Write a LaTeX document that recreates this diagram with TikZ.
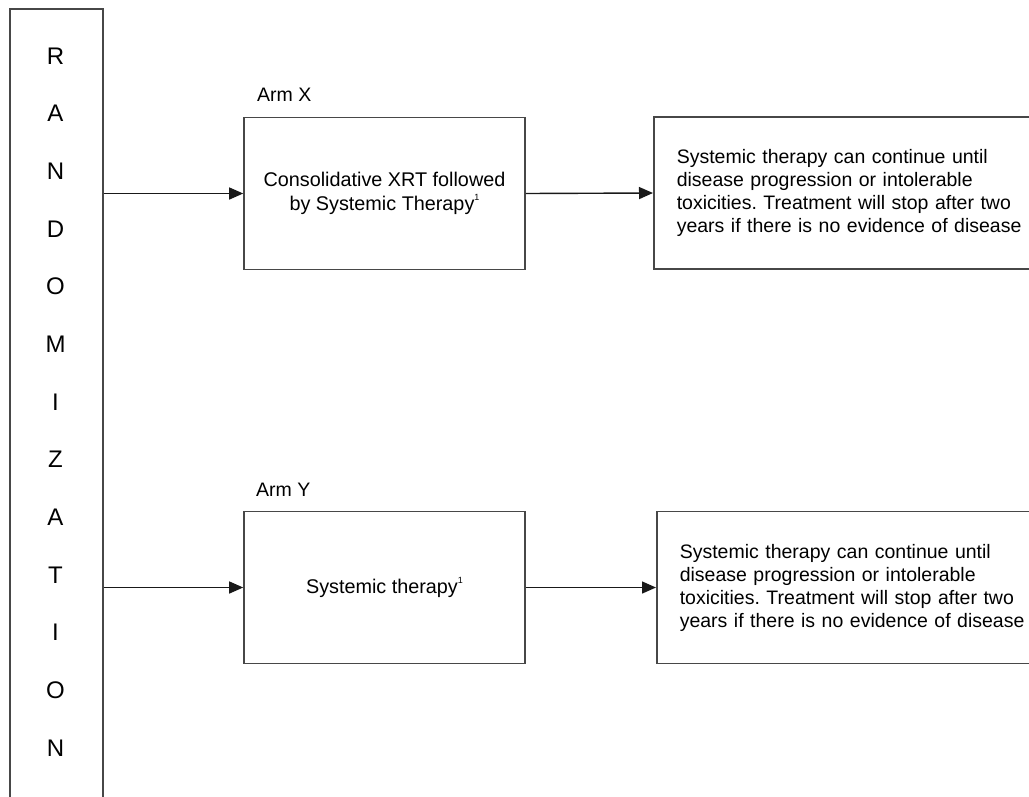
\documentclass[tikz,border=0pt]{standalone}
\usepackage{fontspec}
\setmainfont{Liberation Sans}
\usetikzlibrary{arrows.meta}
\frenchspacing
\newcommand\supone{\raisebox{0.5em}{\fontsize{9}{9}\selectfont 1}}
\begin{document}
\begin{tikzpicture}[x=1pt,y=-1pt,
  boxline/.style={draw=black!72,line width=1.6pt},
  armbox/.style={boxline,minimum width=281pt,minimum height=152pt,inner sep=0pt,
    font=\fontsize{19.8}{24}\selectfont,align=center},
  outbox/.style={boxline,anchor=west,minimum height=152pt,text width=380pt,
    inner xsep=23pt,inner ysep=0pt,font=\fontsize{19.5}{23}\selectfont,align=left},
  letter/.style={font=\fontsize{24}{24}\selectfont,inner sep=0pt},
  armlabel/.style={font=\fontsize{19.5}{20}\selectfont,inner sep=0pt,anchor=west},
  conn/.style={line width=1.4pt,black!90,-{Triangle[length=14pt,width=12pt]}}]
\useasboundingbox (0,0) rectangle (1029,796);
\clip (0,0) rectangle (1029,796);
% randomization column
\node[boxline,minimum width=93pt,minimum height=830pt,anchor=north west,inner sep=0pt] (rand) at (9,8) {};
\foreach \L [count=\i] in {R,A,N,D,O,M,I,Z,A,T,I,O,N}{
  \node[letter] (l\i) at (55.5,{56+(\i-1)*57.67}) {\L};
}
% arm X
\node[armlabel] (ax) at (257,95) {Arm X};
\node[armbox] (b1) at (384.5,193.5) {Consolidative XRT followed\\by Systemic Therapy\supone};
\node[outbox] (b3) at (653,193) {Systemic therapy can continue until\\disease progression or intolerable\\toxicities. Treatment will stop after two\\years if there is no evidence of disease};
% arm Y
\node[armlabel] (ay) at (256,490) {Arm Y};
\node[armbox] (b2) at (384.5,587.5) {Systemic therapy\supone};
\node[outbox] (b4) at (656,587.5) {Systemic therapy can continue until\\disease progression or intolerable\\toxicities. Treatment will stop after two\\years if there is no evidence of disease};
% connectors
\draw[conn] (b1.west -| rand.east) -- (b1.west);
\draw[conn] (b1.east) -- (b3.west);
\draw[conn] (b2.west -| rand.east) -- (b2.west);
\draw[conn] (b2.east) -- (b4.west);
\end{tikzpicture}
\end{document}
